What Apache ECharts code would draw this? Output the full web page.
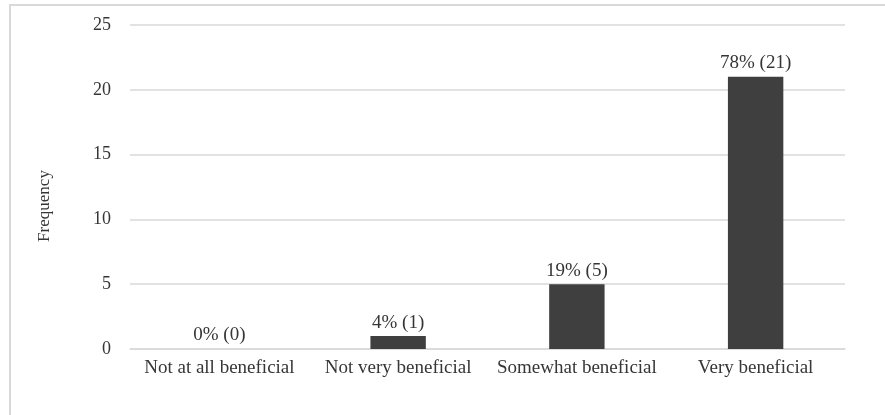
<!DOCTYPE html>
<html>
<head>
<meta charset="utf-8">
<script src="https://cdn.jsdelivr.net/npm/echarts@6/dist/echarts.min.js"></script>
<style>
  html, body { margin: 0; padding: 0; background: #fff; }
  #chart { width: 885px; height: 415px; }
</style>
</head>
<body>
<div id="chart"></div>
<script>
// Responses to "how beneficial" question
const categories = ['Not at all beneficial', 'Not very beneficial', 'Somewhat beneficial', 'Very beneficial'];
const counts = [0, 1, 5, 21];
const percents = [0, 4, 19, 78];
const yTicks = { min: 0, max: 25, interval: 5 };
const yTitle = 'Frequency';

const FONT = '"Liberation Serif", "Times New Roman", serif';
const TEXT = '#363636';
const chart = echarts.init(document.getElementById('chart'), null, { renderer: 'canvas' });

chart.setOption({
  animation: false,
  backgroundColor: '#ffffff',
  graphic: [
    {
      // chart frame
      type: 'rect',
      shape: { x: 10, y: 5, width: 1000, height: 600 },
      style: { fill: 'none', stroke: '#d9d9d9', lineWidth: 2 },
      silent: true
    },
    {
      // vertical axis title
      type: 'text',
      x: 45,
      y: 206,
      rotation: Math.PI / 2,
      style: {
        text: yTitle,
        fill: TEXT,
        font: '17px ' + FONT,
        align: 'center',
        verticalAlign: 'middle'
      },
      silent: true
    }
  ],
  grid: { left: 130, right: 40, top: 25, bottom: 66 },
  xAxis: {
    type: 'category',
    data: categories,
    axisLine: { show: true, lineStyle: { color: '#d9d9d9', width: 1.5 } },
    axisTick: { show: false },
    axisLabel: { color: TEXT, fontFamily: FONT, fontSize: 19, margin: 10, interval: 0 }
  },
  yAxis: {
    type: 'value',
    min: yTicks.min,
    max: yTicks.max,
    interval: yTicks.interval,
    axisLine: { show: false },
    axisTick: { show: false },
    axisLabel: { color: TEXT, fontFamily: FONT, fontSize: 18, margin: 19 },
    splitLine: { lineStyle: { color: '#d9d9d9', width: 1.5 } }
  },
  series: [
    {
      type: 'bar',
      data: counts,
      barWidth: '31%',
      itemStyle: { color: '#3f3f3f' },
      label: {
        show: true,
        position: 'top',
        distance: 4,
        color: TEXT,
        fontFamily: FONT,
        fontSize: 19,
        formatter: p => percents[p.dataIndex] + '% (' + counts[p.dataIndex] + ')'
      }
    }
  ]
});
</script>
</body>
</html>
